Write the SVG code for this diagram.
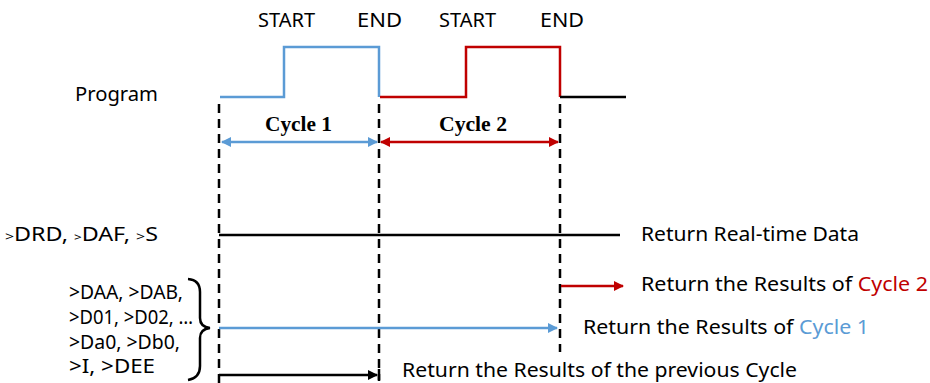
<svg xmlns="http://www.w3.org/2000/svg" width="930" height="383" viewBox="0 0 930 383">
<defs>
<style>
.t{font-family:"Noto Sans","Liberation Sans",sans-serif;font-size:19px;fill:#000}
.c{font-family:"Liberation Serif",serif;font-size:20px;font-weight:bold;fill:#000}
.dash{stroke:#000;stroke-width:2.5;stroke-dasharray:9 6;fill:none}
.blue{stroke:#5b9bd5;stroke-width:2.5;fill:none}
.red{stroke:#c00000;stroke-width:2.5;fill:none}
.blk{stroke:#000;stroke-width:2.5;fill:none}
</style>
<marker id="ab" viewBox="0 0 10 10" refX="9" refY="5" markerWidth="4" markerHeight="4" orient="auto-start-reverse"><path d="M0,0L10,5L0,10z" fill="#5b9bd5"/></marker>
<marker id="ar" viewBox="0 0 10 10" refX="9" refY="5" markerWidth="4" markerHeight="4" orient="auto-start-reverse"><path d="M0,0L10,5L0,10z" fill="#c00000"/></marker>
<marker id="ak" viewBox="0 0 10 10" refX="9" refY="5" markerWidth="4" markerHeight="4" orient="auto-start-reverse"><path d="M0,0L10,5L0,10z" fill="#000"/></marker>
</defs>
<g id="labels">
<text class="t" x="258" y="27" textLength="57" lengthAdjust="spacingAndGlyphs">START</text>
<text class="t" x="357" y="27" textLength="45" lengthAdjust="spacingAndGlyphs">END</text>
<text class="t" x="439" y="27" textLength="57" lengthAdjust="spacingAndGlyphs">START</text>
<text class="t" x="540" y="27" textLength="44" lengthAdjust="spacingAndGlyphs">END</text>
<text class="t" x="75" y="101" textLength="83" lengthAdjust="spacingAndGlyphs">Program</text>
<text class="c" x="265" y="131" textLength="67" lengthAdjust="spacingAndGlyphs">Cycle 1</text>
<text class="c" x="439" y="131" textLength="68" lengthAdjust="spacingAndGlyphs">Cycle 2</text>
<text class="t" x="5" y="241" textLength="153" lengthAdjust="spacingAndGlyphs"><tspan font-size="13">&gt;</tspan>DRD, <tspan font-size="11">&gt;</tspan>DAF, <tspan font-size="13">&gt;</tspan>S</text>
<text class="t" x="641" y="241" textLength="218" lengthAdjust="spacingAndGlyphs">Return Real-time Data</text>
<text class="t" x="641" y="291" textLength="287" lengthAdjust="spacingAndGlyphs">Return the Results of <tspan fill="#c00000">Cycle 2</tspan></text>
<text class="t" x="583" y="334" textLength="286" lengthAdjust="spacingAndGlyphs">Return the Results of <tspan fill="#5b9bd5">Cycle 1</tspan></text>
<text class="t" x="402" y="377" font-size="18" textLength="395" lengthAdjust="spacingAndGlyphs">Return the Results of the previous Cycle</text>
<text class="t" x="69" y="299" font-size="18" textLength="114" lengthAdjust="spacingAndGlyphs">&gt;DAA, &gt;DAB,</text>
<text class="t" x="69" y="324" font-size="18" textLength="124" lengthAdjust="spacingAndGlyphs">&gt;D01, &gt;D02, …</text>
<text class="t" x="69" y="349" font-size="18" textLength="111" lengthAdjust="spacingAndGlyphs">&gt;Da0, &gt;Db0,</text>
<text class="t" x="69" y="373" font-size="18" textLength="86" lengthAdjust="spacingAndGlyphs">&gt;I, &gt;DEE</text>
</g>
<g id="brace">
<path d="M188,279 Q200,280 200,292 L200,318 Q200,327 210,328 Q200,329 200,338 L200,366 Q200,378 188,380" class="blk" stroke-width="1.5"/>
</g>
<g id="waveform">
<polyline class="blue" points="220,97 284,97 284,47 379,47 379,97"/>
<polyline class="red" points="380,97 466,97 466,47 560,47 560,97"/>
<line class="blk" x1="560" y1="97" x2="626" y2="97"/>
</g>
<g id="connectors">
<line class="dash" x1="219" y1="104" x2="219" y2="383"/>
<line class="dash" x1="379" y1="104" x2="379" y2="380"/>
<line class="dash" x1="560" y1="104" x2="560" y2="352"/>
<line class="blue" x1="222" y1="142" x2="377" y2="142" marker-start="url(#ab)" marker-end="url(#ab)"/>
<line class="red" x1="381" y1="142" x2="558" y2="142" marker-start="url(#ar)" marker-end="url(#ar)"/>
<line class="blk" x1="219" y1="235" x2="620" y2="235"/>
<line class="red" x1="561" y1="286" x2="623" y2="286" marker-end="url(#ar)"/>
<line class="blue" x1="219" y1="328" x2="557" y2="328" marker-end="url(#ab)"/>
<line class="blk" x1="219" y1="375" x2="377" y2="375" marker-end="url(#ak)"/>
<line class="blk" x1="379" y1="369" x2="379" y2="381"/>
</g>
</svg>
